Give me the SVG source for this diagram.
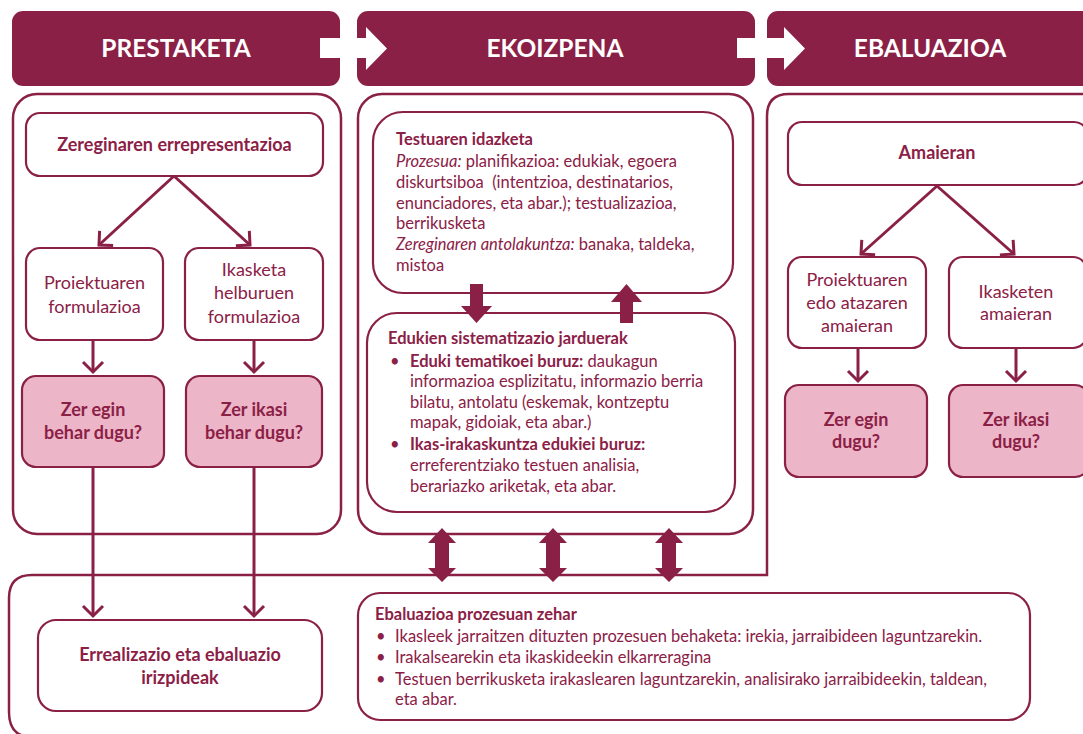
<svg xmlns="http://www.w3.org/2000/svg" width="1083" height="734" viewBox="0 0 1083 734">
<style>
.hdr{fill:#8B2046}
.ht{fill:#fff;font-family:Lato,"Open Sans",sans-serif;font-weight:bold;font-size:24.5px;text-anchor:middle}
.cont{fill:none;stroke:#8B2046;stroke-width:2.5}
.box{fill:#fff;stroke:#8B2046;stroke-width:2.2}
.pink{fill:#EDB5C8;stroke:#8B2046;stroke-width:2.2}
.t{fill:#8B2046;font-family:Lato,"Open Sans",sans-serif;font-size:18px;text-anchor:middle}
.tb{fill:#8B2046;font-family:Lato,"Open Sans",sans-serif;font-size:18px;font-weight:bold;text-anchor:middle}
.tq{fill:#8B2046;font-family:Lato,"Open Sans",sans-serif;font-size:18px;font-weight:bold;text-anchor:middle}
.s{fill:#8B2046;font-family:Lato,"Open Sans",sans-serif;font-size:16.5px;white-space:pre}
.b{font-weight:bold}
.i{font-style:italic}
.ln{fill:none;stroke:#8B2046;stroke-width:3}
.blk{fill:#8B2046}
</style>
<defs>
<marker id="ah" markerWidth="20" markerHeight="20" refX="13" refY="10" orient="auto" markerUnits="userSpaceOnUse" overflow="visible">
<path d="M3,0 L13,10 L3,20" fill="none" stroke="#8B2046" stroke-width="3"/>
</marker>
</defs>

<g id="headers">
<rect class="hdr" x="12" y="11" width="328" height="75" rx="11"/>
<rect class="hdr" x="357" y="11" width="398" height="75" rx="11"/>
<rect class="hdr" x="767" y="11" width="340" height="75" rx="11"/>
<polygon fill="#fff" points="320,38 366,38 366,27 387,48.5 366,70 366,58 320,58"/>
<polygon fill="#fff" points="737,38 784,38 784,27 805,48.5 784,70 784,58 737,58"/>
<text class="ht" x="176" y="57">PRESTAKETA</text>
<text class="ht" x="555" y="57">EKOIZPENA</text>
<text class="ht" x="930" y="57">EBALUAZIOA</text>
</g>

<g id="containers">
<rect class="cont" x="13" y="94" width="328" height="440" rx="24"/>
<rect class="cont" x="358" y="94" width="395" height="440" rx="24"/>
<path class="cont" d="M1100,94 H789 Q767,94 767,116 V575 H32 Q9,575 9,598 V712 Q9,737 32,737 H1100"/>
</g>

<g id="n-zeregin">
<rect class="box" x="26" y="113" width="297" height="63" rx="14"/>
<text class="tb" x="174.5" y="151">Zereginaren errepresentazioa</text>
</g>
<g id="n-proiektu">
<rect class="box" x="26" y="248" width="137" height="92" rx="14"/>
<text class="t" x="94.5" y="289">Proiektuaren</text>
<text class="t" x="94.5" y="313">formulazioa</text>
</g>
<g id="n-ikasketa">
<rect class="box" x="185" y="248" width="138" height="92" rx="14"/>
<text class="t" x="254" y="276">Ikasketa</text>
<text class="t" x="254" y="299">helburuen</text>
<text class="t" x="254" y="323">formulazioa</text>
</g>
<g id="n-zeregin-egin">
<rect class="pink" x="22" y="376" width="142" height="91" rx="14"/>
<text class="tq" x="93" y="416">Zer egin</text>
<text class="tq" x="93" y="439">behar dugu?</text>
</g>
<g id="n-zer-ikasi">
<rect class="pink" x="186" y="376" width="136" height="91" rx="14"/>
<text class="tq" x="254" y="416">Zer ikasi</text>
<text class="tq" x="254" y="439">behar dugu?</text>
</g>

<g id="n-testuaren">
<rect class="box" x="373" y="112" width="360" height="181" rx="30"/>
<text class="s" x="396"><tspan x="396" y="145" class="b">Testuaren idazketa</tspan><tspan x="396" y="167"><tspan class="i">Prozesua:</tspan> planifikazioa: edukiak, egoera</tspan><tspan x="396" y="188">diskurtsiboa  (intentzioa, destinatarios,</tspan><tspan x="396" y="209">enunciadores, eta abar.); testualizazioa,</tspan><tspan x="396" y="229">berrikusketa</tspan><tspan x="396" y="250"><tspan class="i">Zereginaren antolakuntza:</tspan> banaka, taldeka,</tspan><tspan x="396" y="271">mistoa</tspan></text>
</g>
<g id="n-edukien">
<rect class="box" x="367" y="313" width="368" height="199" rx="30"/>
<text class="s"><tspan x="388" y="344" class="b">Edukien sistematizazio jarduerak</tspan><tspan x="390" y="367">•</tspan><tspan x="410" y="367"><tspan class="b">Eduki tematikoei buruz:</tspan> daukagun</tspan><tspan x="410" y="387">informazioa esplizitatu, informazio berria</tspan><tspan x="410" y="408">bilatu, antolatu (eskemak, kontzeptu</tspan><tspan x="410" y="428">mapak, gidoiak, eta abar.)</tspan><tspan x="390" y="450">•</tspan><tspan x="410" y="450" class="b">Ikas-irakaskuntza edukiei buruz:</tspan><tspan x="410" y="471">erreferentziako testuen analisia,</tspan><tspan x="410" y="492">berariazko ariketak, eta abar.</tspan></text>
</g>

<g id="n-amaieran">
<rect class="box" x="788" y="122" width="300" height="63" rx="14"/>
<text class="tq" x="937" y="159">Amaieran</text>
</g>
<g id="n-proiektu-amaiera">
<rect class="box" x="788" y="257" width="138" height="91" rx="14"/>
<text class="t" x="857" y="286">Proiektuaren</text>
<text class="t" x="857" y="309">edo atazaren</text>
<text class="t" x="857" y="332">amaieran</text>
</g>
<g id="n-ikasketen">
<rect class="box" x="949" y="257" width="138" height="91" rx="14"/>
<text class="t" x="1016" y="298">Ikasketen</text>
<text class="t" x="1016" y="320">amaieran</text>
</g>
<g id="n-zer-egin-dugu">
<rect class="pink" x="785" y="385" width="142" height="92" rx="14"/>
<text class="tq" x="856" y="426">Zer egin</text>
<text class="tq" x="856" y="448">dugu?</text>
</g>
<g id="n-zer-ikasi-dugu">
<rect class="pink" x="949" y="385" width="140" height="92" rx="14"/>
<text class="tq" x="1016" y="426">Zer ikasi</text>
<text class="tq" x="1016" y="448">dugu?</text>
</g>

<g id="n-errealizazio">
<rect class="box" x="38" y="620" width="284" height="91" rx="18"/>
<text class="tb" x="180" y="661">Errealizazio eta ebaluazio</text>
<text class="tb" x="180" y="684">irizpideak</text>
</g>
<g id="n-ebaluazioa-prozesuan">
<rect class="box" x="358" y="593" width="672" height="127" rx="22"/>
<text class="s"><tspan x="375" y="620" class="b">Ebaluazioa prozesuan zehar</tspan><tspan x="376" y="642">•</tspan><tspan x="395" y="642">Ikasleek jarraitzen dituzten prozesuen behaketa: irekia, jarraibideen laguntzarekin.</tspan><tspan x="376" y="663">•</tspan><tspan x="395" y="663">Irakalsearekin eta ikaskideekin elkarreragina</tspan><tspan x="376" y="685">•</tspan><tspan x="395" y="685">Testuen berrikusketa irakaslearen laguntzarekin, analisirako jarraibideekin, taldean,</tspan><tspan x="395" y="705">eta abar.</tspan></text>
</g>

<g id="connectors">
<line class="ln" x1="174" y1="176" x2="99" y2="245" marker-end="url(#ah)"/>
<line class="ln" x1="174" y1="176" x2="250" y2="245" marker-end="url(#ah)"/>
<line class="ln" x1="93" y1="340" x2="93" y2="372" marker-end="url(#ah)"/>
<line class="ln" x1="254" y1="340" x2="254" y2="372" marker-end="url(#ah)"/>
<line class="ln" x1="93" y1="467" x2="93" y2="616" marker-end="url(#ah)"/>
<line class="ln" x1="254" y1="467" x2="254" y2="616" marker-end="url(#ah)"/>
<line class="ln" x1="937" y1="186" x2="861" y2="254" marker-end="url(#ah)"/>
<line class="ln" x1="937" y1="186" x2="1014" y2="254" marker-end="url(#ah)"/>
<line class="ln" x1="858" y1="348" x2="858" y2="381" marker-end="url(#ah)"/>
<line class="ln" x1="1016" y1="348" x2="1016" y2="381" marker-end="url(#ah)"/>
<polygon class="blk" points="470,284 483,284 483,306 492,306 476.5,323 461,306 470,306"/>
<polygon class="blk" points="620,323 633,323 633,302 642,302 626.5,284 611,302 620,302"/>
<polygon class="blk" points="442,528 456,543 449,543 449,568 456,568 442,582 428,568 435,568 435,543 428,543"/>
<polygon class="blk" points="553,528 567,543 560,543 560,568 567,568 553,582 539,568 546,568 546,543 539,543"/>
<polygon class="blk" points="669,528 683,543 676,543 676,568 683,568 669,582 655,568 662,568 662,543 655,543"/>
</g>
</svg>
